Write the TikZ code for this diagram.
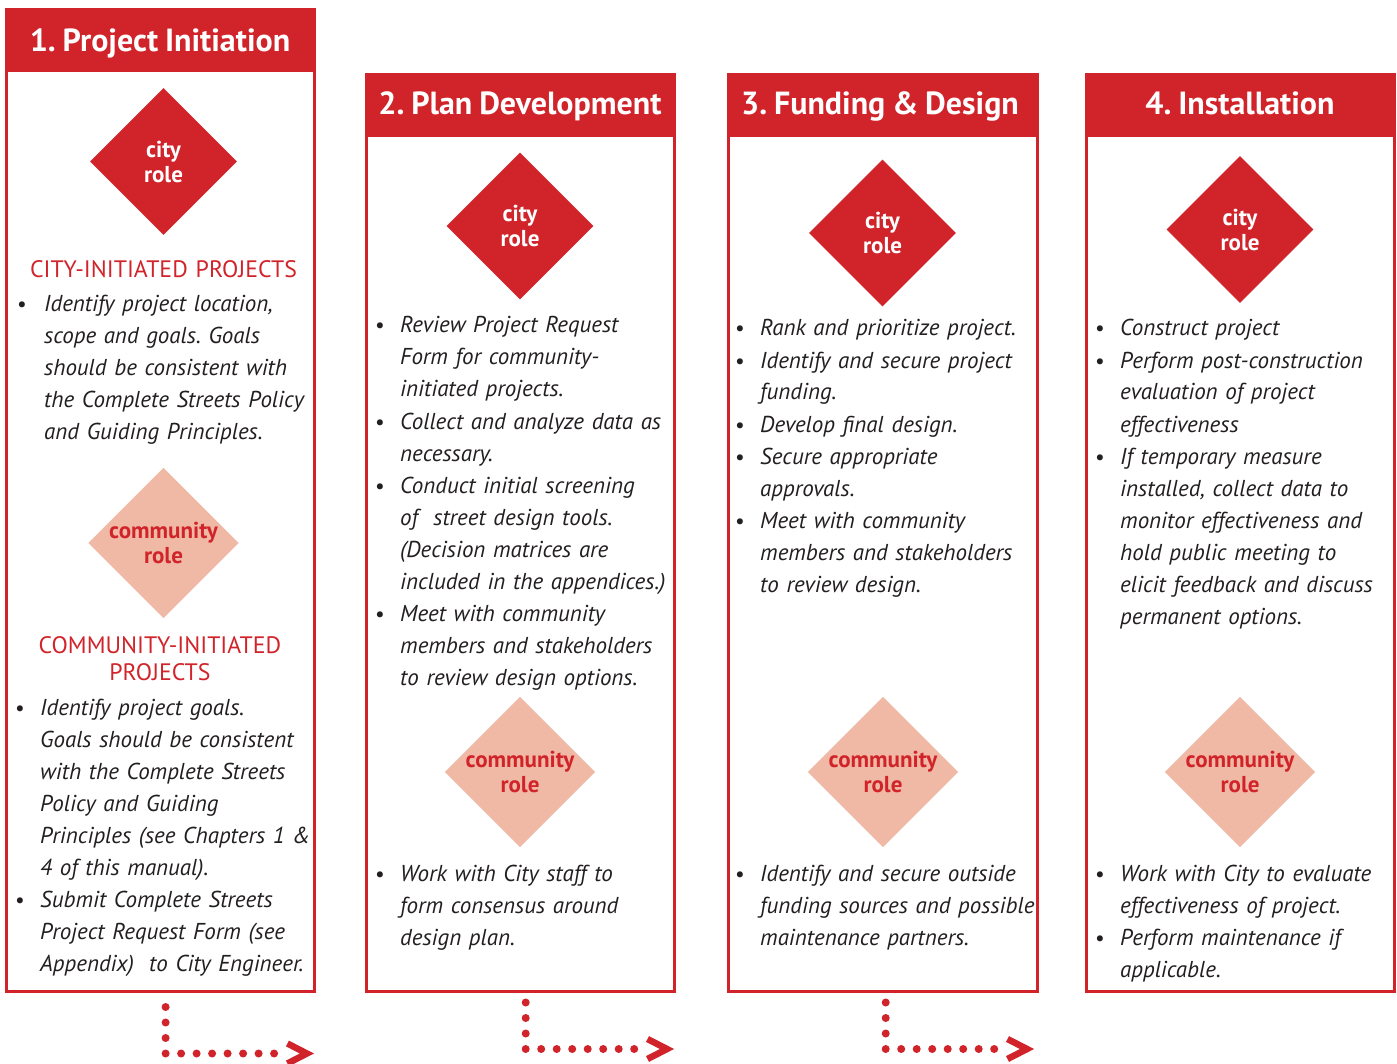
\documentclass[tikz,border=0pt]{standalone}
\usepackage{fontspec}
\setmainfont{PT Sans}[WordSpace=0.85]
\usetikzlibrary{shapes.geometric}
\definecolor{cred}{HTML}{D1232A}
\definecolor{csal}{HTML}{F0B9A5}
\definecolor{ctxt}{HTML}{231F20}
\frenchspacing
\begin{document}
\begin{tikzpicture}[x=1pt,y=-1pt,
 header/.style={fill=cred, draw=none},
 frame/.style={draw=cred, line width=3pt},
 title/.style={text=white, font=\bfseries\fontsize{32}{33}\selectfont, anchor=base, inner sep=0},
 citydia/.style={diamond, fill=cred, minimum size=147pt, inner sep=0, text=white, font=\bfseries\fontsize{23}{25}\selectfont, align=center},
 commdia/.style={diamond, fill=csal, minimum size=147pt, inner sep=0, text=cred, font=\bfseries\fontsize{23}{25}\selectfont, align=center},
 sect/.style={text=cred, font=\fontsize{23.8}{27.5}\selectfont, anchor=base, inner sep=0, text width=300pt, align=center},
 item/.style={anchor=base west, inner sep=0, text width=330pt, align=left, text=ctxt, font=\itshape\fontsize{23}{32}\selectfont},
 bul/.style={anchor=base, inner sep=0, text=ctxt, font=\fontsize{21.5}{32}\selectfont},
 dotline/.style={draw=cred, line width=8pt, line cap=round, dash pattern=on 0pt off 15.5pt},
 chev/.style={draw=cred, line width=6.5pt, miter limit=10}
]
\useasboundingbox (0,0) rectangle (1397,1064);

% ---------- frames and headers ----------
\draw[frame] (6.5,9.5) rectangle (314,991.5);
\fill[header] (5,8) rectangle (315.5,72.5);
\draw[frame] (366,74.5) rectangle (674,991.5);
\fill[header] (364.5,73) rectangle (675.5,137.5);
\draw[frame] (728.5,74.5) rectangle (1037.5,991.5);
\fill[header] (727,73) rectangle (1039,137.5);
\draw[frame] (1086,74.5) rectangle (1394,991.5);
\fill[header] (1084.5,73) rectangle (1395.5,137.5);

\node[title] (t1) at (160,51.7) {1. Project Initiation};
\node[title] (t2) at (520,115) {2. Plan Development};
\node[title] (t3) at (880,115) {3. Funding \& Design};
\node[title] (t4) at (1240,115) {4. Installation};

% ---------- diamonds ----------
\node[citydia] (c1) at (163.5,161.5) {city\\role};
\node[commdia] (m1) at (163.5,543) {community\\role};
\node[citydia] (c2) at (520,226) {city\\role};
\node[commdia] (m2) at (520,772) {community\\role};
\node[citydia] (c3) at (882.5,233) {city\\role};
\node[commdia] (m3) at (883,772) {community\\role};
\node[citydia] (c4) at (1240,229.5) {city\\role};
\node[commdia] (m4) at (1240,772) {community\\role};

% ---------- column 1 ----------
\node[sect] (s1) at (163.5,277.7) {CITY-INITIATED PROJECTS};
\node[bul] (b1a) at (22,312) {•};
\node[item] (i1a) at (44,312) {Identify project location,\\scope and goals. Goals\\should be consistent with\\the Complete Streets Policy\\and Guiding Principles.};
\node[sect] (s2) at (160,653.3) {COMMUNITY-INITIATED\\PROJECTS};
\node[bul] (b1b) at (20,715) {•};
\node[item] (i1b) at (40,715) {Identify project goals.\\Goals should be consistent\\with the Complete Streets\\Policy and Guiding\\Principles (see Chapters 1 \&\\4 of this manual).};
\node[bul] (b1c) at (20,907) {•};
\node[item] (i1c) at (40,907) {Submit Complete Streets\\Project Request Form (see\\Appendix)~~to City Engineer.};

% ---------- column 2 ----------
\node[bul] (b2a) at (380,333) {•};
\node[item] (i2a) at (400,333) {Review Project Request\\Form for community-\\initiated projects.};
\node[bul] (b2b) at (380,429) {•};
\node[item] (i2b) at (400,429) {Collect and analyze data as\\necessary.};
\node[bul] (b2c) at (380,493) {•};
\node[item] (i2c) at (400,493) {Conduct initial screening\\of~~street design tools.\\(Decision matrices are\\included in the appendices.)};
\node[bul] (b2d) at (380,621) {•};
\node[item] (i2d) at (400,621) {Meet with community\\members and stakeholders\\to review design options.};
\node[bul] (b2e) at (380,881) {•};
\node[item] (i2e) at (400,881) {Work with City staff to\\form consensus around\\design plan.};

% ---------- column 3 ----------
\node[bul] (b3a) at (740,336) {•};
\node[item] (i3a) at (760,336) {Rank and prioritize project.};
\node[bul] (b3b) at (740,368) {•};
\node[item] (i3b) at (760,368) {Identify and secure project\\funding.};
\node[bul] (b3c) at (740,432) {•};
\node[item] (i3c) at (760,432) {Develop final design.};
\node[bul] (b3d) at (740,464) {•};
\node[item] (i3d) at (760,464) {Secure appropriate\\approvals.};
\node[bul] (b3e) at (740,528) {•};
\node[item] (i3e) at (760,528) {Meet with community\\members and stakeholders\\to review design.};
\node[bul] (b3f) at (740,881) {•};
\node[item] (i3f) at (760,881) {Identify and secure outside\\funding sources and possible\\maintenance partners.};

% ---------- column 4 ----------
\node[bul] (b4a) at (1100,336) {•};
\node[item] (i4a) at (1120,336) {Construct project};
\node[bul] (b4b) at (1100,368) {•};
\node[item] (i4b) at (1120,368) {Perform post-construction\\evaluation of project\\effectiveness};
\node[bul] (b4c) at (1100,464) {•};
\node[item] (i4c) at (1120,464) {If temporary measure\\installed, collect data to\\monitor effectiveness and\\hold public meeting to\\elicit feedback and discuss\\permanent options.};
\node[bul] (b4d) at (1100,881) {•};
\node[item] (i4d) at (1120,881) {Work with City to evaluate\\effectiveness of project.};
\node[bul] (b4e) at (1100,945) {•};
\node[item] (i4e) at (1120,945) {Perform maintenance if\\applicable.};

% ---------- dotted arrows ----------
\coordinate (a1s) at (165.6,1007);
\coordinate (a1c) at (165.6,1053.5);
\coordinate (a1e) at (274.1,1053.5);
\coordinate (h1a) at (287.4,1043.5);
\coordinate (h1b) at (306.9,1053.5);
\coordinate (h1c) at (287.4,1063.5);
\draw[dotline] (a1s) -- (a1c) -- (a1e);
\draw[chev] (h1a) -- (h1b) -- (h1c);

\coordinate (a2s) at (525.7,1002.5);
\coordinate (a2c) at (525.7,1049);
\coordinate (a2e) at (634.2,1049);
\coordinate (h2a) at (647.5,1039);
\coordinate (h2b) at (667,1049);
\coordinate (h2c) at (647.5,1059);
\draw[dotline] (a2s) -- (a2c) -- (a2e);
\draw[chev] (h2a) -- (h2b) -- (h2c);

\coordinate (a3s) at (885.7,1002.5);
\coordinate (a3c) at (885.7,1049);
\coordinate (a3e) at (994.2,1049);
\coordinate (h3a) at (1007.5,1039);
\coordinate (h3b) at (1027,1049);
\coordinate (h3c) at (1007.5,1059);
\draw[dotline] (a3s) -- (a3c) -- (a3e);
\draw[chev] (h3a) -- (h3b) -- (h3c);
\end{tikzpicture}
\end{document}
